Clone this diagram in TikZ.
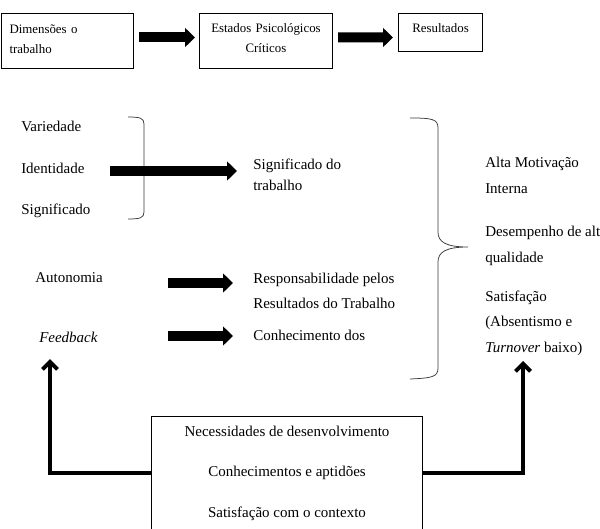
\documentclass[tikz,border=0pt]{standalone}
\usepackage{fontspec}
\setmainfont{Liberation Serif}
\usetikzlibrary{arrows.meta}
\definecolor{ink}{HTML}{000000}
\definecolor{rule}{HTML}{3A3A3A}
\tikzset{
  frame/.style={draw=ink, line width=0.8pt, inner xsep=6.4pt, inner ysep=0pt, font=\fontsize{10.3}{16}\selectfont},
  side/.style={draw=ink, line width=0.8pt},
  fat/.style={draw=ink, line width=8pt, -{Triangle[length=8pt,width=15pt]}},
  back/.style={draw=ink, line width=3.2pt, -{Straight Barb[length=6pt,width=12pt]}},
  brace/.style={draw=rule, line width=0.6pt},
  lab/.style={text=ink, inner sep=0pt, font=\fontsize{12}{14}\selectfont},
}
\begin{document}
\begin{tikzpicture}[x=0.8pt,y=-0.8pt]
  \useasboundingbox (0,0) rectangle (600,529);
  % top row
  \node[frame, anchor=north west, text width=92.8pt, align=left, text height=16pt, text depth=28pt] (dim) at (1,13) {Dimensões o\\trabalho};
  \node[frame, anchor=north west, inner xsep=1pt, text width=104.4pt, align=center, text height=15.2pt, text depth=28.8pt] (est) at (199,13) {Estados Psicológicos\\Críticos};
  \node[frame, anchor=north west, inner xsep=2pt, text width=63.2pt, align=center, text height=15.2pt, text depth=15.2pt] (res) at (398,13) {Resultados};
  \draw[fat] ([shift={(5,-3.5)}]dim.east) -- ([shift={(-4,-3.5)}]est.west);
  \draw[fat] ([shift={(5,-3.5)}]est.east) -- ([shift={(-5,5)}]res.west);

  % job dimensions
  \node[lab, anchor=base west] (var) at (21,132) {Variedade};
  \node[lab, anchor=base west] (iden) at (21,173) {Identidade};
  \node[lab, anchor=base west] (sig) at (21,214) {Significado};
  \draw[brace] (128,117) .. controls (140,117) and (144,118) .. (144,124) -- (144,212) .. controls (144,218) and (140,219) .. (128,219);
  \node[lab, anchor=base west, align=left, font=\fontsize{12}{16.8}\selectfont] (sigtr) at (253,190) {Significado do\\trabalho};
  \draw[fat] ([shift={(89,-2)}]iden.base west) -- ([shift={(-16,-19)}]sigtr.base west);

  \node[lab, anchor=base west] (auto) at (35,282) {Autonomia};
  \node[lab, anchor=base west] (feed) at (39,342) {\textit{Feedback}};
  \node[lab, anchor=base west, align=left, font=\fontsize{12}{20}\selectfont] (resp) at (253,308) {Responsabilidade pelos\\Resultados do Trabalho};
  \node[lab, anchor=base west] (conh) at (253,340) {Conhecimento dos};
  \draw[fat] ([shift={(133,1)}]auto.base west) -- ([shift={(-20,-25)}]resp.base west);
  \draw[fat] ([shift={(129,-6)}]feed.base west) -- ([shift={(-20,-4)}]conh.base west);

  % outcomes
  \draw[brace] (410,118) .. controls (432,118) and (438,119) .. (438,128) -- (438,232) .. controls (438,242) and (446,247) .. (468,247) .. controls (446,247) and (438,252) .. (438,262) -- (438,368) .. controls (438,377) and (432,378) .. (410,379);
  \node[lab, anchor=base west, align=left, font=\fontsize{12}{20.8}\selectfont] (mot) at (485,193) {Alta Motivação\\Interna};
  \node[lab, anchor=base west, align=left, font=\fontsize{12}{20.8}\selectfont] (desemp) at (485,262) {Desempenho de alt\\qualidade};
  \node[lab, anchor=base west, align=left, font=\fontsize{12}{20.4}\selectfont] (satis) at (485,352) {Satisfação\\(Absentismo e\\\textit{Turnover} baixo)};

  % moderators
  \node[lab, anchor=north, minimum width=216pt, text height=80.8pt, text depth=9.6pt, align=center, font=\fontsize{12}{32.4}\selectfont] (need) at (287,416) {Necessidades de desenvolvimento\\Conhecimentos e aptidões\\Satisfação com o contexto};
  \draw[side] (need.south west) -- (need.north west) -- (need.north east) -- (need.south east);
  \coordinate (tipl) at (50,359);
  \coordinate (tipr) at (523,361);
  \draw[back] (need.west) -| (tipl);
  \draw[back] (need.east) -| (tipr);
\end{tikzpicture}
\end{document}
